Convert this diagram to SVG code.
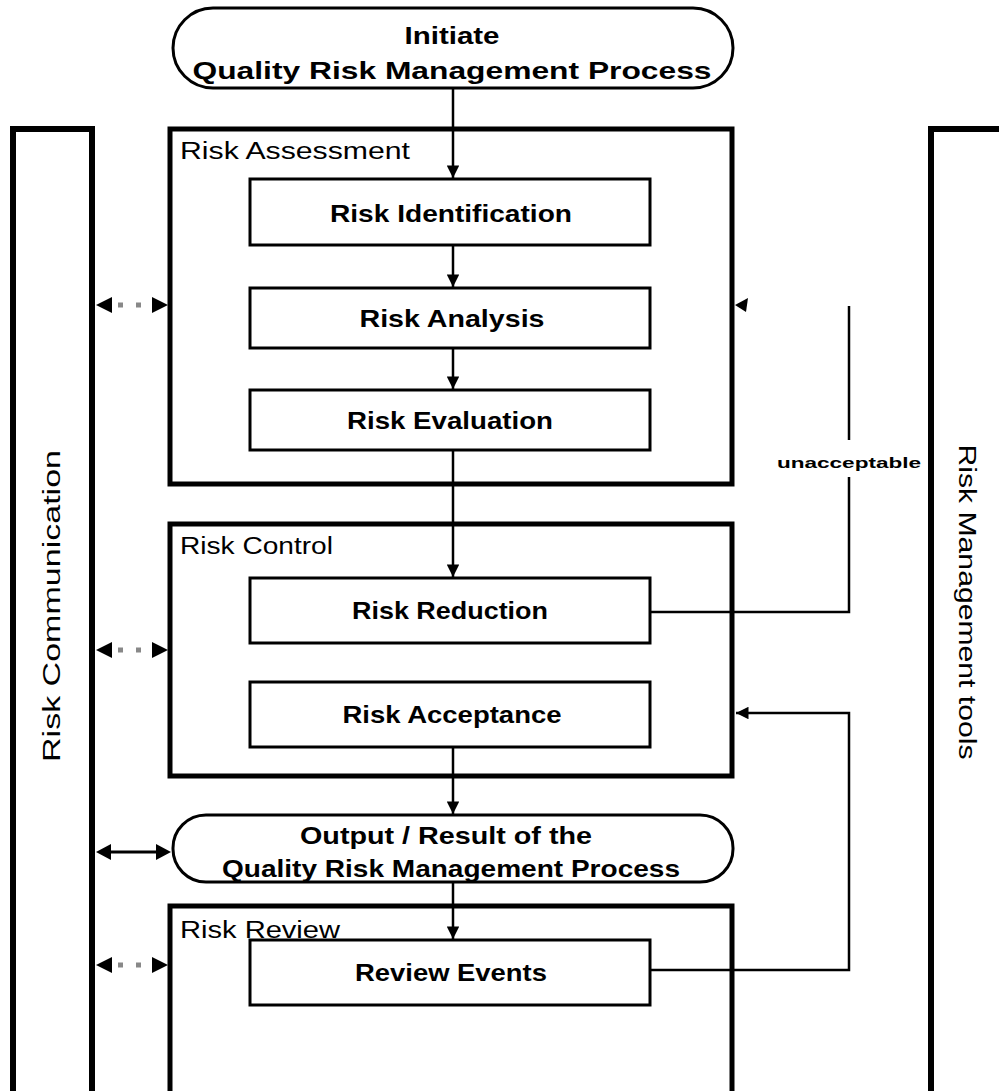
<svg xmlns="http://www.w3.org/2000/svg" width="999" height="1091" viewBox="0 0 999 1091">
<style>
text{font-family:"Liberation Sans",Arial,sans-serif;fill:#000}
.b{font-weight:bold;font-size:24px}
.g{font-size:23px}
.panel{fill:none;stroke:#000;stroke-width:6}
.grp{fill:none;stroke:#000;stroke-width:5}
.box{fill:#fff;stroke:#000;stroke-width:3}
.stad{fill:#fff;stroke:#000;stroke-width:3}
.ln{fill:none;stroke:#000;stroke-width:2.5}
.dash{stroke:#888;stroke-width:5;stroke-dasharray:5 13}
</style>
<defs>
<marker id="ah" viewBox="0 0 10 10" refX="10" refY="5" markerWidth="5.5" markerHeight="5" orient="auto" markerUnits="strokeWidth">
<path d="M0,0 L10,5 L0,10 z" fill="#000"/>
</marker>
</defs>
<rect width="999" height="1091" fill="#fff"/>

<g id="risk-communication">
<rect class="panel" x="13" y="129" width="79" height="980"/>
<text class="g" transform="translate(60,606) rotate(-90)" text-anchor="middle" textLength="312" lengthAdjust="spacingAndGlyphs">Risk Communication</text>
</g>
<g id="risk-management-tools">
<rect class="panel" x="931" y="129" width="100" height="980"/>
<text class="g" transform="translate(959,602) rotate(90)" text-anchor="middle" textLength="315" lengthAdjust="spacingAndGlyphs">Risk Management tools</text>
</g>

<g id="risk-assessment">
<rect class="grp" x="170" y="129" width="562" height="355"/>
<text class="g" x="180" y="159" textLength="230" lengthAdjust="spacingAndGlyphs">Risk Assessment</text>
</g>
<g id="risk-control">
<rect class="grp" x="170" y="524" width="562" height="252"/>
<text class="g" x="180" y="554" textLength="153" lengthAdjust="spacingAndGlyphs">Risk Control</text>
</g>
<g id="risk-review">
<rect class="grp" x="170" y="906" width="562" height="200"/>
<text class="g" x="180" y="938" textLength="160" lengthAdjust="spacingAndGlyphs">Risk Review</text>
</g>

<g id="initiate">
<rect class="stad" x="173" y="8" width="560" height="80" rx="40" ry="40"/>
<text class="b" x="452" y="44" text-anchor="middle" textLength="95" lengthAdjust="spacingAndGlyphs" font-size="26">Initiate</text>
<text class="b" x="452" y="79" text-anchor="middle" textLength="519" lengthAdjust="spacingAndGlyphs" font-size="26">Quality Risk Management Process</text>
</g>

<g id="risk-identification">
<rect class="box" x="250" y="179" width="400" height="66"/>
<text class="b" x="451" y="222" text-anchor="middle" textLength="242" lengthAdjust="spacingAndGlyphs">Risk Identification</text>
</g>
<g id="risk-analysis">
<rect class="box" x="250" y="288" width="400" height="60"/>
<text class="b" x="452" y="327" text-anchor="middle" textLength="185" lengthAdjust="spacingAndGlyphs">Risk Analysis</text>
</g>
<g id="risk-evaluation">
<rect class="box" x="250" y="390" width="400" height="60"/>
<text class="b" x="450" y="429" text-anchor="middle" textLength="206" lengthAdjust="spacingAndGlyphs">Risk Evaluation</text>
</g>
<g id="risk-reduction">
<rect class="box" x="250" y="578" width="400" height="65"/>
<text class="b" x="450" y="619" text-anchor="middle" textLength="196" lengthAdjust="spacingAndGlyphs">Risk Reduction</text>
</g>
<g id="risk-acceptance">
<rect class="box" x="250" y="682" width="400" height="65"/>
<text class="b" x="452" y="723" text-anchor="middle" textLength="219" lengthAdjust="spacingAndGlyphs">Risk Acceptance</text>
</g>
<g id="output">
<rect class="stad" x="173" y="815" width="560" height="67" rx="33" ry="33"/>
<text class="b" x="446" y="844" text-anchor="middle" textLength="292" lengthAdjust="spacingAndGlyphs">Output / Result of the</text>
<text class="b" x="451" y="877" text-anchor="middle" textLength="458" lengthAdjust="spacingAndGlyphs">Quality Risk Management Process</text>
</g>
<g id="review-events">
<rect class="box" x="250" y="940" width="400" height="65"/>
<text class="b" x="451" y="981" text-anchor="middle" textLength="192" lengthAdjust="spacingAndGlyphs">Review Events</text>
</g>

<g id="connectors">
<line class="ln" x1="453" y1="89" x2="453" y2="178" marker-end="url(#ah)"/>
<line class="ln" x1="453" y1="246" x2="453" y2="287" marker-end="url(#ah)"/>
<line class="ln" x1="453" y1="349" x2="453" y2="389" marker-end="url(#ah)"/>
<line class="ln" x1="453" y1="451" x2="453" y2="577" marker-end="url(#ah)"/>
<line class="ln" x1="453" y1="748" x2="453" y2="814" marker-end="url(#ah)"/>
<line class="ln" x1="453" y1="883" x2="453" y2="939" marker-end="url(#ah)"/>

<polyline class="ln" points="651,612 849,612 849,477"/>
<line class="ln" x1="849" y1="440" x2="849" y2="306"/>
<path d="M735,305 L748,298 L746,312 z" fill="#000"/>
<text x="849" y="468" text-anchor="middle" font-weight="bold" font-size="15" textLength="144" lengthAdjust="spacingAndGlyphs">unacceptable</text>

<polyline class="ln" points="651,970 849,970 849,713 736,713" marker-end="url(#ah)"/>

<line class="dash" x1="118" y1="305" x2="150" y2="305"/>
<path d="M96,305 L112,297 L112,313 z" fill="#000"/>
<path d="M168,305 L152,297 L152,313 z" fill="#000"/>
<line class="dash" x1="118" y1="650" x2="150" y2="650"/>
<path d="M96,650 L112,642 L112,658 z" fill="#000"/>
<path d="M168,650 L152,642 L152,658 z" fill="#000"/>
<line class="dash" x1="118" y1="965" x2="150" y2="965"/>
<path d="M96,965 L112,957 L112,973 z" fill="#000"/>
<path d="M168,965 L152,957 L152,973 z" fill="#000"/>

<line x1="105" y1="852" x2="160" y2="852" stroke="#000" stroke-width="3"/>
<path d="M96,852 L111,844 L111,860 z" fill="#000"/>
<path d="M171,852 L156,844 L156,860 z" fill="#000"/>
</g>
</svg>
